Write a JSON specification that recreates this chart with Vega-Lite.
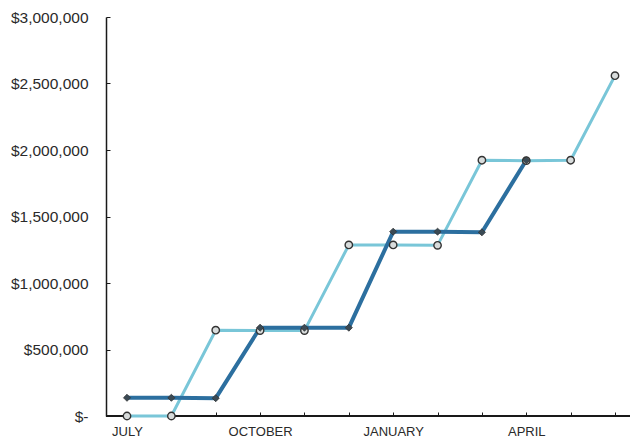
{
  "$schema": "https://vega.github.io/schema/vega-lite/v6.json",
  "width": 524,
  "height": 399,
  "autosize": "none",
  "padding": {"left": 106, "top": 17, "right": 0, "bottom": 21},
  "background": "white",
  "config": {
    "view": {"stroke": null},
    "font": "Liberation Sans",
    "axis": {
      "labelFont": "Liberation Sans",
      "labelColor": "#2a2a2a",
      "domainColor": "#1a1a1a",
      "tickColor": "#1a1a1a",
      "grid": false,
      "title": null
    }
  },
  "datasets": {
    "series": [
      {"month": "JULY", "line": "Projected", "value": 0},
      {"month": "AUGUST", "line": "Projected", "value": 0},
      {"month": "SEPTEMBER", "line": "Projected", "value": 645000},
      {"month": "OCTOBER", "line": "Projected", "value": 642000},
      {"month": "NOVEMBER", "line": "Projected", "value": 642000},
      {"month": "DECEMBER", "line": "Projected", "value": 1286000},
      {"month": "JANUARY", "line": "Projected", "value": 1286000},
      {"month": "FEBRUARY", "line": "Projected", "value": 1283000},
      {"month": "MARCH", "line": "Projected", "value": 1923000},
      {"month": "APRIL", "line": "Projected", "value": 1920000},
      {"month": "MAY", "line": "Projected", "value": 1923000},
      {"month": "JUNE", "line": "Projected", "value": 2559000},
      {"month": "JULY", "line": "Actual", "value": 137000},
      {"month": "AUGUST", "line": "Actual", "value": 137000},
      {"month": "SEPTEMBER", "line": "Actual", "value": 134000},
      {"month": "OCTOBER", "line": "Actual", "value": 664000},
      {"month": "NOVEMBER", "line": "Actual", "value": 664000},
      {"month": "DECEMBER", "line": "Actual", "value": 664000},
      {"month": "JANUARY", "line": "Actual", "value": 1386000},
      {"month": "FEBRUARY", "line": "Actual", "value": 1386000},
      {"month": "MARCH", "line": "Actual", "value": 1381000},
      {"month": "APRIL", "line": "Actual", "value": 1923000}
    ]
  },
  "data": {"name": "series"},
  "encoding": {
    "x": {
      "field": "month",
      "type": "ordinal",
      "sort": ["JULY", "AUGUST", "SEPTEMBER", "OCTOBER", "NOVEMBER", "DECEMBER", "JANUARY", "FEBRUARY", "MARCH", "APRIL", "MAY", "JUNE"],
      "scale": {"type": "point", "range": [21, 509], "padding": 0},
      "axis": {
        "domain": false,
        "labelAngle": 0,
        "labelFontSize": 13,
        "labelPadding": 13,
        "tickSize": -4,
        "labelExpr": "(datum.value == 'JULY' || datum.value == 'OCTOBER' || datum.value == 'JANUARY' || datum.value == 'APRIL') ? datum.value : ''"
      }
    },
    "y": {
      "field": "value",
      "type": "quantitative",
      "scale": {"domain": [0, 3000000], "nice": false},
      "axis": {
        "values": [0, 500000, 1000000, 1500000, 2000000, 2500000, 3000000],
        "labelFontSize": 15.5,
        "labelPadding": 22,
        "tickSize": -4,
        "domainWidth": 1.5,
        "labelExpr": "datum.value == 0 ? '$-' : format(datum.value, '$,')"
      }
    }
  },
  "layer": [
    {
      "mark": {"type": "rule", "color": "#1a1a1a", "strokeWidth": 1.5},
      "encoding": {"x": null, "y": {"datum": 0}}
    },
    {
      "transform": [{"filter": "datum.line == 'Projected'"}],
      "mark": {"type": "line", "color": "#79c6d8", "strokeWidth": 3}
    },
    {
      "transform": [{"filter": "datum.line == 'Actual'"}],
      "mark": {"type": "line", "color": "#2c6f9f", "strokeWidth": 4}
    },
    {
      "transform": [{"filter": "datum.line == 'Projected'"}],
      "mark": {"type": "point", "shape": "circle", "size": 55, "filled": true, "fill": "#d8dcdc", "stroke": "#333333", "strokeWidth": 1.4, "opacity": 1}
    },
    {
      "transform": [{"filter": "datum.line == 'Actual'"}],
      "mark": {"type": "point", "shape": "diamond", "size": 50, "filled": true, "fill": "#3a4a55", "stroke": "#333333", "strokeWidth": 0.8, "opacity": 1}
    }
  ]
}
